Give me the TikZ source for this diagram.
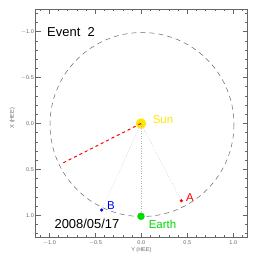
\documentclass[tikz,border=0pt]{standalone}
\usepackage{fontspec}
\setmainfont{Liberation Sans}
\begin{document}
\begin{tikzpicture}[x=1bp,y=-1bp,
  axis/.style={draw=black!60,line width=0.6bp},
  ticklab/.style={text=black!60,font=\fontsize{5.5}{6}\selectfont,inner sep=0.5bp},
  bigtext/.style={font=\fontsize{13}{14}\selectfont,inner sep=0},
  lbl/.style={font=\fontsize{11.5}{12}\selectfont,inner sep=0},
  ray/.style={draw=black!30,dotted,line width=0.5bp}]
\useasboundingbox (0,0) rectangle (258,258);
\fill[white] (0,0) rectangle (258,258);
% frame
\draw[axis] (35.7,9) rectangle (247.7,237.3);
% Y ticks (horizontal axis), px = 141.3 + 92*Y
\foreach \v in {-11,...,11}{
  \pgfmathsetmacro{\px}{141.3+9.2*\v}
  \draw[axis] (\px,237.3) -- (\px,235);
  \draw[axis] (\px,9) -- (\px,11.3);
}
\foreach \v in {-10,-5,0,5,10}{
  \pgfmathsetmacro{\px}{141.3+9.2*\v}
  \draw[axis] (\px,237.3) -- (\px,232.5);
  \draw[axis] (\px,9) -- (\px,13.8);
}
% X ticks (vertical axis), py = 123.5 + 91.8*X
\foreach \v in {-12,...,12}{
  \pgfmathsetmacro{\py}{123.5+9.18*\v}
  \draw[axis] (35.7,\py) -- (38,\py);
  \draw[axis] (247.7,\py) -- (245.4,\py);
}
\foreach \v in {-10,-5,0,5,10}{
  \pgfmathsetmacro{\py}{123.5+9.18*\v}
  \draw[axis] (35.7,\py) -- (40.5,\py);
  \draw[axis] (247.7,\py) -- (242.9,\py);
}
% tick labels
\node[ticklab,anchor=north] (yl1) at (49.3,240) {$-$1.0};
\node[ticklab,anchor=north] (yl2) at (95.3,240) {$-$0.5};
\node[ticklab,anchor=north] (yl3) at (141.3,240) {0.0};
\node[ticklab,anchor=north] (yl4) at (187.3,240) {0.5};
\node[ticklab,anchor=north] (yl5) at (233.3,240) {1.0};
\node[ticklab,anchor=east] (xl1) at (34.5,31.7) {$-$1.0};
\node[ticklab,anchor=east] (xl2) at (34.5,77.6) {$-$0.5};
\node[ticklab,anchor=east] (xl3) at (34.5,123.5) {0.0};
\node[ticklab,anchor=east] (xl4) at (34.5,169.4) {0.5};
\node[ticklab,anchor=east] (xl5) at (34.5,215.3) {1.0};
\node[ticklab] (ytitle) at (141.3,250.5) {Y (HEE)};
\node[ticklab,rotate=90] (xtitle) at (12.5,118) {X (HEE)};
% orbit
\draw[black!60,dashed,dash pattern=on 5bp off 4bp,line width=0.5bp] (142,124.5) circle[radius=92];
% bodies
\coordinate (redend) at (62.3,163.3);
\fill[yellow!90!orange] (141,123.5) circle[radius=5.2];
\node[inner sep=0,minimum size=10.4bp,circle] (sun) at (141,123.5) {};
\node[circle,fill=green!85!black,inner sep=0,minimum size=7.5bp] (earth) at (141,216.3) {};
\node[circle,fill=red,inner sep=0,minimum size=3.5bp] (a) at (181.3,200.7) {};
\node[circle,fill=blue,inner sep=0,minimum size=3.5bp] (b) at (101.6,210) {};
\draw[ray] (sun.center) -- (earth);
\draw[ray] (sun.center) -- (a);
\draw[ray] (sun.center) -- (b);
\draw[red,dash pattern=on 3bp off 3bp,line width=1bp] (sun.center) -- (redend);
% labels
\node[lbl,text=yellow!90!orange] (sunl) at (163,120) {Sun};
\node[lbl,text=green!85!black] (earthl) at (162.5,224) {Earth};
\node[lbl,text=red] (al) at (190,198) {A};
\node[lbl,text=blue] (bl) at (111,205.5) {B};
\node[bigtext] (ev) at (71,32) {Event\ \ 2};
\node[bigtext] (date) at (87,224) {2008/05/17};
\end{tikzpicture}
\end{document}
